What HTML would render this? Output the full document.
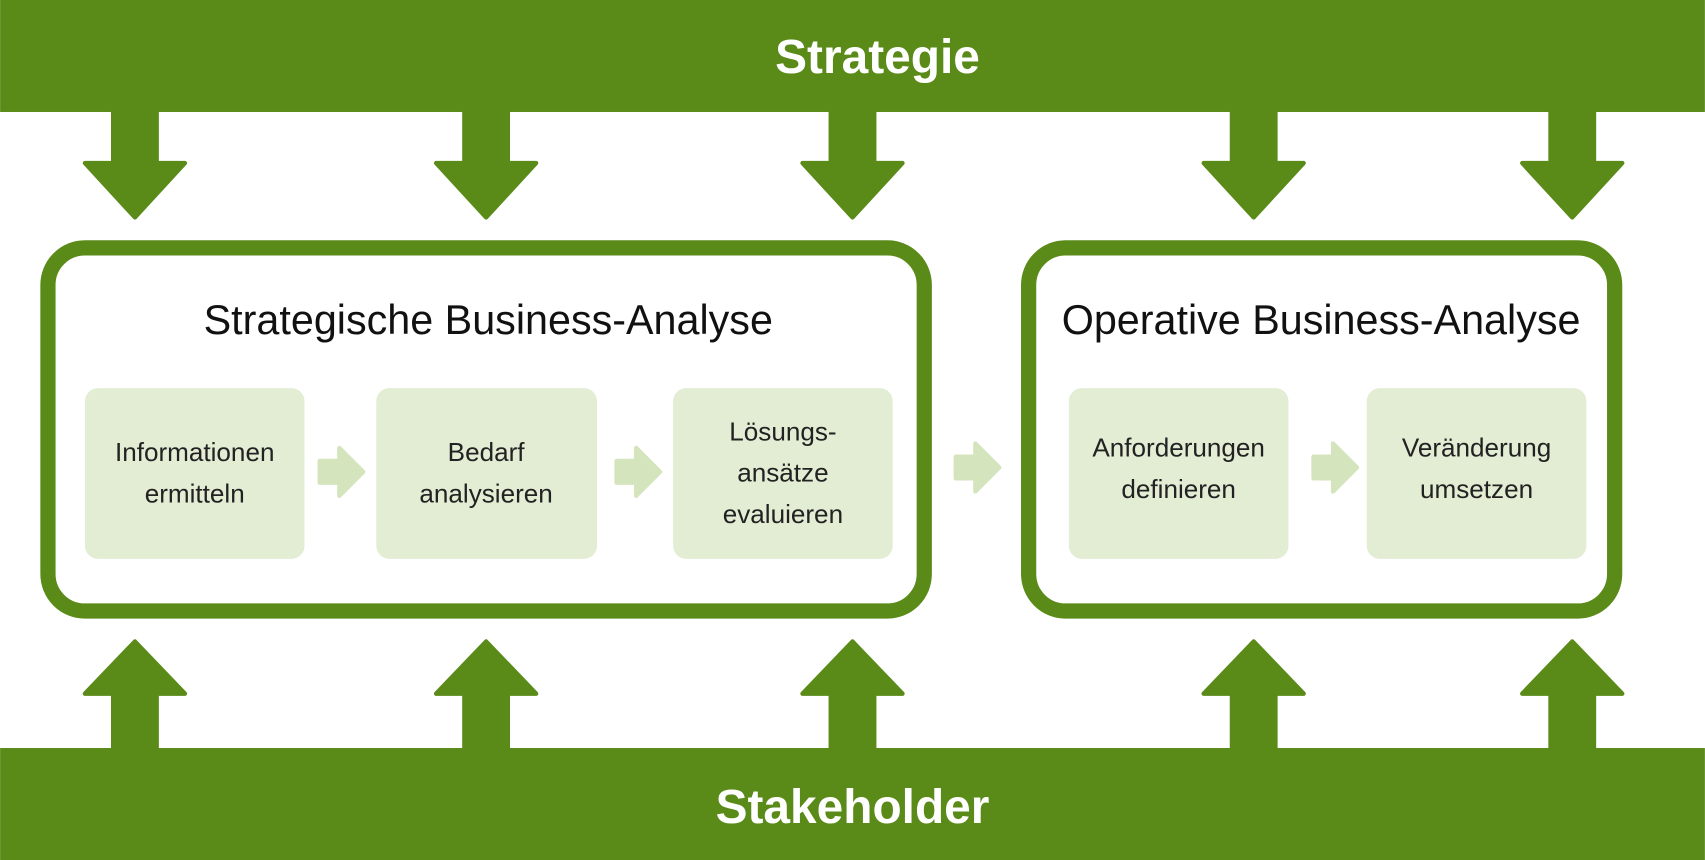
<!DOCTYPE html>
<html><head><meta charset="utf-8"><style>
html,body{margin:0;padding:0;background:#fff;}
svg{display:block;}
text{font-family:"Liberation Sans",sans-serif;}
</style></head><body>
<svg width="1705" height="860" viewBox="0 0 1568 791" xmlns="http://www.w3.org/2000/svg">
<defs>
<g id="down"><path d="M-20 103 L20 103 L20 150 L46 150 L0 200 L-46 150 L-20 150 Z" fill="#5a8a18" stroke="#5a8a18" stroke-width="4" stroke-linejoin="round"/></g>
<g id="up"><path d="M-20 688 L20 688 L20 638 L46 638 L0 590 L-46 638 L-20 638 Z" fill="#5a8a18" stroke="#5a8a18" stroke-width="4" stroke-linejoin="round"/></g>
<g id="sm"><path d="M0 -10 L18 -10 L18 -22 L40 0 L18 22 L18 10 L0 10 Z" fill="#d4e5be" stroke="#d4e5be" stroke-width="4" stroke-linejoin="round"/></g>
</defs>
<rect x="0" y="0" width="1568" height="103" fill="#5a8a18"/>
<rect x="0" y="688" width="1568" height="103" fill="#5a8a18"/>
<text x="807" y="67" font-size="44" font-weight="bold" fill="#fff" text-anchor="middle">Strategie</text>
<text x="784" y="757" font-size="44" font-weight="bold" fill="#fff" text-anchor="middle">Stakeholder</text>
<use href="#down" x="124"/><use href="#down" x="447"/><use href="#down" x="784"/><use href="#down" x="1153"/><use href="#down" x="1446"/>
<use href="#up" x="124"/><use href="#up" x="447"/><use href="#up" x="784"/><use href="#up" x="1153"/><use href="#up" x="1446"/>
<rect x="44" y="228" width="806" height="334" rx="34" fill="#fff" stroke="#5a8a18" stroke-width="14"/>
<rect x="946" y="228" width="539" height="334" rx="34" fill="#fff" stroke="#5a8a18" stroke-width="14"/>
<text x="449" y="307" font-size="38" fill="#111" text-anchor="middle">Strategische Business-Analyse</text>
<text x="1215" y="307" font-size="38" fill="#111" text-anchor="middle">Operative Business-Analyse</text>
<g fill="#e2edd4">
<rect x="78" y="357" width="202" height="157" rx="12"/>
<rect x="346" y="357" width="203" height="157" rx="12"/>
<rect x="619" y="357" width="202" height="157" rx="12"/>
<rect x="983" y="357" width="202" height="157" rx="12"/>
<rect x="1257" y="357" width="202" height="157" rx="12"/>
</g>
<use href="#sm" x="294" y="434"/><use href="#sm" x="567" y="434"/><use href="#sm" x="879" y="430"/><use href="#sm" x="1208" y="430"/>
<g font-size="24" fill="#222" text-anchor="middle">
<text x="179" y="424">Informationen</text><text x="179" y="462">ermitteln</text>
<text x="447" y="424">Bedarf</text><text x="447" y="462">analysieren</text>
<text x="720" y="405">Lösungs-</text><text x="720" y="443">ansätze</text><text x="720" y="481">evaluieren</text>
<text x="1084" y="420">Anforderungen</text><text x="1084" y="458">definieren</text>
<text x="1358" y="420">Veränderung</text><text x="1358" y="458">umsetzen</text>
</g>
</svg>
</body></html>
